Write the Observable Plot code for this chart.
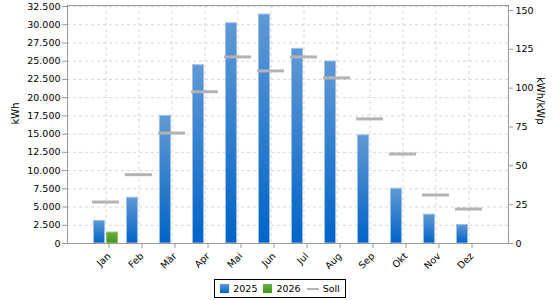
<!DOCTYPE html>
<html>
<head>
<meta charset="utf-8">
<script src="https://cdn.jsdelivr.net/npm/d3@7"></script>
<script src="https://cdn.jsdelivr.net/npm/@observablehq/plot@0.6"></script>
<style>
  html, body { margin: 0; padding: 0; background: #fff; }
  body { width: 560px; height: 300px; overflow: hidden; font-family: "DejaVu Sans", sans-serif; }
  #chart svg { display: block; }
  #legend { display: flex; justify-content: center; margin-top: 3px; }
  #legend .box { border: 1px solid #000; display: flex; align-items: center; gap: 6px; padding: 0 5px; font-size: 9.5px; height: 17px; box-sizing: content-box; }
  #legend .item { display: flex; align-items: center; gap: 4px; }
  #legend .sw { width: 9px; height: 9px; }
  #legend .ln { width: 12px; height: 2px; background: #b5b5b5; }
</style>
</head>
<body>
<div id="chart"></div>
<div id="legend"></div>
<script>
const months = ["Jan","Feb","Mär","Apr","Mai","Jun","Jul","Aug","Sep","Okt","Nov","Dez"];
const kwh2025 = [3100, 6270, 17500, 24450, 30200, 31400, 26700, 24960, 14830, 7510, 3960, 2540];
const kwh2026 = [1500, null, null, null, null, null, null, null, null, null, null, null];
const sollKwhKwp = [26.7, 44.3, 71.1, 97.7, 120.1, 111.1, 120.1, 106.6, 80.2, 57.6, 31.2, 22.2];
const leftTicks = [0,2500,5000,7500,10000,12500,15000,17500,20000,22500,25000,27500,30000,32500];
const rightTicks = [0,25,50,75,100,125,150];
const seriesNames = ["2025","2026","Soll"];
const axisTitles = ["kWh", "kWh/kWp"];

const yMax = 32640;
const rMax = 153.2;
const K = yMax / rMax;

const data = months.map((m, i) => ({month: m, v2025: kwh2025[i], v2026: kwh2026[i], soll: sollKwhKwp[i]}));
const fmt = d3.formatLocale({decimal: ",", thousands: ".", grouping: [3], currency: ["", "€"]}).format(",d");

const font = "DejaVu Sans, sans-serif";
const plot = Plot.plot({
  width: 560,
  height: 276,
  marginLeft: 67,
  marginRight: 52,
  marginTop: 5,
  marginBottom: 33,
  style: {fontFamily: font, fontSize: "9.5px", color: "#000", background: "#fff"},
  x: {domain: months, paddingInner: 0.17, paddingOuter: 0.622, label: null},
  y: {domain: [0, yMax], label: null},
  marks: [
    Plot.gridY(leftTicks, {stroke: "#d6d6d6", strokeOpacity: 1, strokeDasharray: "3,3"}),
    Plot.gridX({stroke: "#d6d6d6", strokeOpacity: 1, strokeDasharray: "3,3"}),
    Plot.barY(data, {x: "month", y: "v2025", fill: "url(#gBlue)", stroke: "#9cc0ea", strokeWidth: 1, insetLeft: 1.5, insetRight: 14.5}),
    Plot.barY(data.filter(d => d.v2026 != null), {x: "month", y: "v2026", fill: "url(#gGreen)", stroke: "#8cc46e", strokeWidth: 1, insetLeft: 14.5, insetRight: 1.5}),
    Plot.tickY(data, {x: "month", y: d => d.soll * K, stroke: "#b3b3b3", strokeWidth: 3}),
    Plot.frame({stroke: "#999"}),
    Plot.axisY(leftTicks, {anchor: "left", tickFormat: fmt, tickSize: 5, tickPadding: 2, stroke: "#999", label: null}),
    Plot.axisY(rightTicks.map(v => v * K), {anchor: "right", tickFormat: d => Math.round(d / K), tickSize: 4, tickPadding: 3, stroke: "#999", label: null}),
    Plot.axisX({tickRotate: -45, tickSize: 5, tickPadding: 6, dx: 3, stroke: "#999", label: null}),
    Plot.text([axisTitles[0]], {frameAnchor: "left", rotate: -90, dx: -52, fontSize: 10}),
    Plot.text([axisTitles[1]], {frameAnchor: "right", rotate: 90, dx: 32, fontSize: 10})
  ]
});

const ns = "http://www.w3.org/2000/svg";
const defs = document.createElementNS(ns, "defs");
defs.innerHTML = `
  <linearGradient id="gBlue" x1="0" y1="0" x2="0" y2="1">
    <stop offset="0" stop-color="#6099d5"/>
    <stop offset="1" stop-color="#0064c8"/>
  </linearGradient>
  <linearGradient id="gGreen" x1="0" y1="0" x2="0" y2="1">
    <stop offset="0" stop-color="#6aac45"/>
    <stop offset="1" stop-color="#3e9a18"/>
  </linearGradient>`;
plot.insertBefore(defs, plot.firstChild);
document.getElementById("chart").appendChild(plot);

const legendColors = ["linear-gradient(#6099d5,#0064c8)", "linear-gradient(#6aac45,#3e9a18)"];
const box = document.createElement("div");
box.className = "box";
seriesNames.forEach((name, i) => {
  const item = document.createElement("div");
  item.className = "item";
  const sw = document.createElement("div");
  if (i < 2) { sw.className = "sw"; sw.style.background = legendColors[i]; }
  else { sw.className = "ln"; }
  const t = document.createElement("span");
  t.textContent = name;
  item.appendChild(sw); item.appendChild(t);
  box.appendChild(item);
});
document.getElementById("legend").appendChild(box);
</script>
</body>
</html>
